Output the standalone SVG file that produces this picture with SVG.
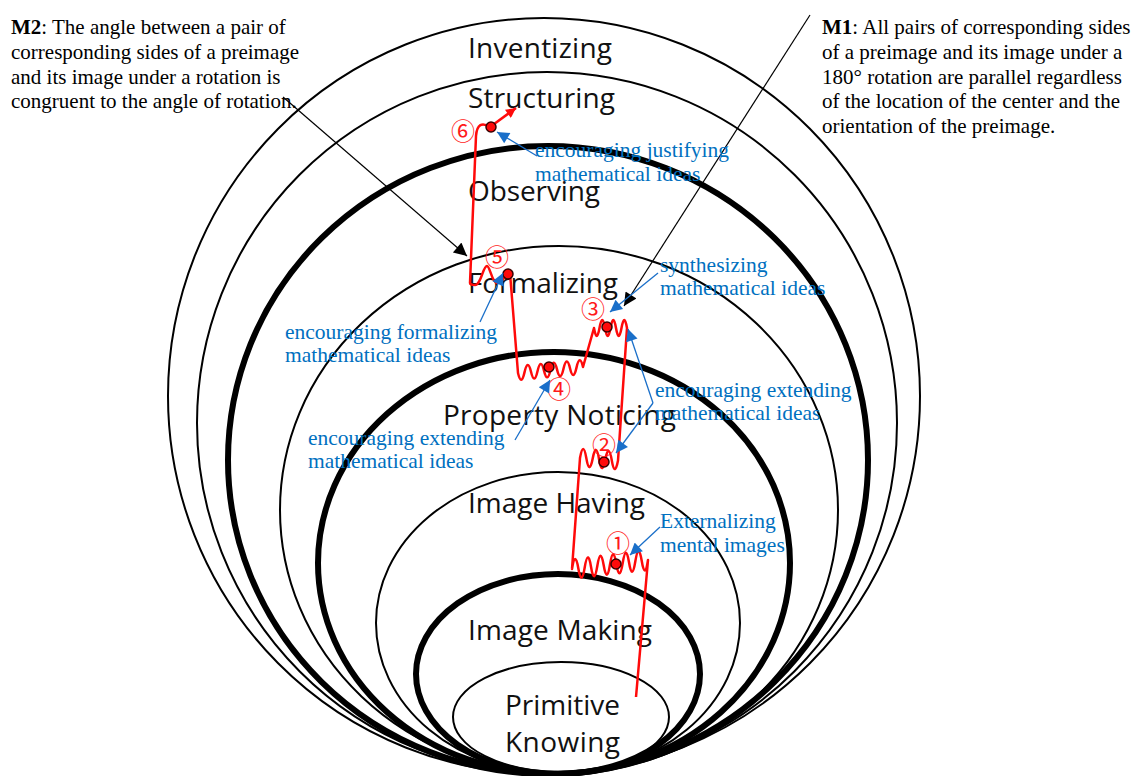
<svg xmlns="http://www.w3.org/2000/svg" width="1137" height="776" viewBox="0 0 1137 776">
<style>
.thin{fill:none;stroke:#000;stroke-width:2}
.thick{fill:none;stroke:#000;stroke-width:6}
.lvl{font-family:"Open Sans","Liberation Sans",sans-serif;font-size:28px;fill:#111}
.blue{font-family:"Liberation Serif","Times New Roman",serif;font-size:21.5px;fill:#0070C0}
.note{font-family:"Liberation Serif","Times New Roman",serif;font-size:21px;fill:#000}
.num{font-family:"Noto Sans CJK JP","DejaVu Sans",sans-serif;font-size:24px;fill:#ff1a1a;text-anchor:middle;dominant-baseline:central}
.barrow{stroke:#1a6fc9;stroke-width:1.3;fill:none;marker-end:url(#mb)}
.karrow{stroke:#000;stroke-width:1.2;fill:none;marker-end:url(#mk)}
.dot{fill:#ff0a0a;stroke:#3a0000;stroke-width:1.5}
</style>
<defs>
<marker id="mk" viewBox="0 0 10 10" refX="10" refY="5" markerWidth="17" markerHeight="13" markerUnits="userSpaceOnUse" orient="auto"><path d="M0,0 L10,5 L0,10 z" fill="#000"/></marker>
<marker id="mb" viewBox="0 0 10 10" refX="10" refY="5" markerWidth="16" markerHeight="12" markerUnits="userSpaceOnUse" orient="auto"><path d="M0,0 L10,5 L0,10 z" fill="#1a6fc9"/></marker>
<marker id="mr" viewBox="0 0 10 10" refX="10" refY="5" markerWidth="13" markerHeight="10" markerUnits="userSpaceOnUse" orient="auto"><path d="M0,0 L10,5 L0,10 z" fill="#ff0a0a"/></marker>
</defs>
<rect width="1137" height="776" fill="#fff"/>

<g id="levels">
<g id="inventizing"><ellipse class="thin" cx="544" cy="396" rx="376" ry="378"/><text class="lvl" x="468" y="58" textLength="144">Inventizing</text></g>
<g id="structuring"><ellipse class="thin" cx="547" cy="423" rx="350" ry="351"/><text class="lvl" x="468" y="108" textLength="147">Structuring</text></g>
<g id="observing"><ellipse class="thick" cx="548" cy="460" rx="320" ry="314"/><text class="lvl" x="468" y="201" textLength="132">Observing</text></g>
<g id="formalizing"><ellipse class="thin" cx="559" cy="510" rx="279" ry="264"/><text class="lvl" x="468" y="293" textLength="150">Formalizing</text></g>
<g id="property-noticing"><ellipse class="thick" cx="554" cy="563" rx="236" ry="211"/><text class="lvl" x="443" y="425" textLength="233">Property Noticing</text></g>
<g id="image-having"><ellipse class="thin" cx="558" cy="623" rx="182" ry="151"/><text class="lvl" x="468" y="513" textLength="177">Image Having</text></g>
<g id="image-making"><ellipse class="thick" cx="558" cy="674" rx="142" ry="100"/><text class="lvl" x="468" y="640" textLength="184">Image Making</text></g>
<g id="primitive-knowing"><ellipse class="thin" cx="561" cy="717" rx="108" ry="55"/><text class="lvl" x="505" y="715" textLength="115">Primitive</text><text class="lvl" x="505" y="752" textLength="115">Knowing</text></g>
</g>

<g id="growth-path">
<path fill="none" stroke="#ff0a0a" stroke-width="2.5" stroke-linejoin="round" d="M 636 697 L 648 560 Q 644.8 580.4 641.7 560.8 T 635.3 561.5 T 629 562.3 T 622.7 563 T 616.3 563.8 T 610 564.5 T 603.7 565.3 T 597.3 566 T 591 566.8 T 584.7 567.5 T 578.3 568.3 T 572 569 L 580 458 Q 583.2 440 586.3 458 T 592.7 458.5 T 599 459 T 605.3 459.5 T 611.7 460 T 618 460.5 L 627 328 Q 624.3 312 621.5 328 T 616 328 T 610.5 328 T 605 328 T 599.5 328 T 594 328 L 583 367 Q 579.75 353.3 576.5 367.6 T 570 368.2 T 563.5 368.8 T 557 369.4 T 550.5 370 T 544 370.6 T 537.5 371.2 T 531 371.8 T 524.5 372.4 T 518 373 L 510 273 C 505 273 503 283 497 283 C 492 283 490 266 487 266 C 483 266 481 285 475 285 C 472 285 470 284 470 283 L 476 136 C 477 124 482 122 490 127"/>
<line x1="490" y1="127" x2="516" y2="108" stroke="#ff0a0a" stroke-width="2.5" marker-end="url(#mr)"/>
<circle class="dot" cx="616" cy="564" r="5"/>
<circle class="dot" cx="604" cy="462" r="5"/>
<circle class="dot" cx="607" cy="327" r="5"/>
<circle class="dot" cx="549" cy="367" r="5"/>
<circle class="dot" cx="508" cy="274" r="5"/>
<circle class="dot" cx="491" cy="127" r="5"/>
<text class="num" x="618" y="541">①</text>
<text class="num" x="604" y="443">②</text>
<text class="num" x="593" y="307">③</text>
<text class="num" x="559" y="387">④</text>
<text class="num" x="497" y="255">⑤</text>
<text class="num" x="463" y="129">⑥</text>
</g>

<g id="connectors">
<line class="karrow" x1="283" y1="97" x2="467" y2="256"/>
<line class="karrow" x1="810" y1="15" x2="624" y2="306"/>
<line class="barrow" x1="537" y1="156" x2="497" y2="132"/>
<line class="barrow" x1="658" y1="273" x2="610" y2="312"/>
<line class="barrow" x1="653" y1="403" x2="628" y2="329"/>
<line class="barrow" x1="653" y1="403" x2="616" y2="453"/>
<line class="barrow" x1="480" y1="322" x2="503" y2="273"/>
<line class="barrow" x1="515" y1="440" x2="550" y2="380"/>
<line class="barrow" x1="660" y1="527" x2="630" y2="555"/>
</g>

<g id="actions">
<text class="blue" x="535" y="157">encouraging justifying</text>
<text class="blue" x="535" y="181">mathematical ideas</text>
<text class="blue" x="660" y="272">synthesizing</text>
<text class="blue" x="660" y="295">mathematical ideas</text>
<text class="blue" x="285" y="339">encouraging formalizing</text>
<text class="blue" x="285" y="362">mathematical ideas</text>
<text class="blue" x="655" y="397">encouraging extending</text>
<text class="blue" x="655" y="420">mathematical ideas</text>
<text class="blue" x="308" y="445">encouraging extending</text>
<text class="blue" x="308" y="468">mathematical ideas</text>
<text class="blue" x="660" y="528">Externalizing</text>
<text class="blue" x="660" y="552">mental images</text>
</g>

<g id="m2-note">
<text class="note" x="11" y="34"><tspan font-weight="bold">M2</tspan>: The angle between a pair of</text>
<text class="note" x="11" y="59">corresponding sides of a preimage</text>
<text class="note" x="11" y="84">and its image under a rotation is</text>
<text class="note" x="11" y="108">congruent to the angle of rotation.</text>
</g>
<g id="m1-note">
<text class="note" x="822" y="34"><tspan font-weight="bold">M1</tspan>: All pairs of corresponding sides</text>
<text class="note" x="822" y="59">of a preimage and its image under a</text>
<text class="note" x="822" y="84">180° rotation are parallel regardless</text>
<text class="note" x="822" y="108">of the location of the center and the</text>
<text class="note" x="822" y="133">orientation of the preimage.</text>
</g>
</svg>
